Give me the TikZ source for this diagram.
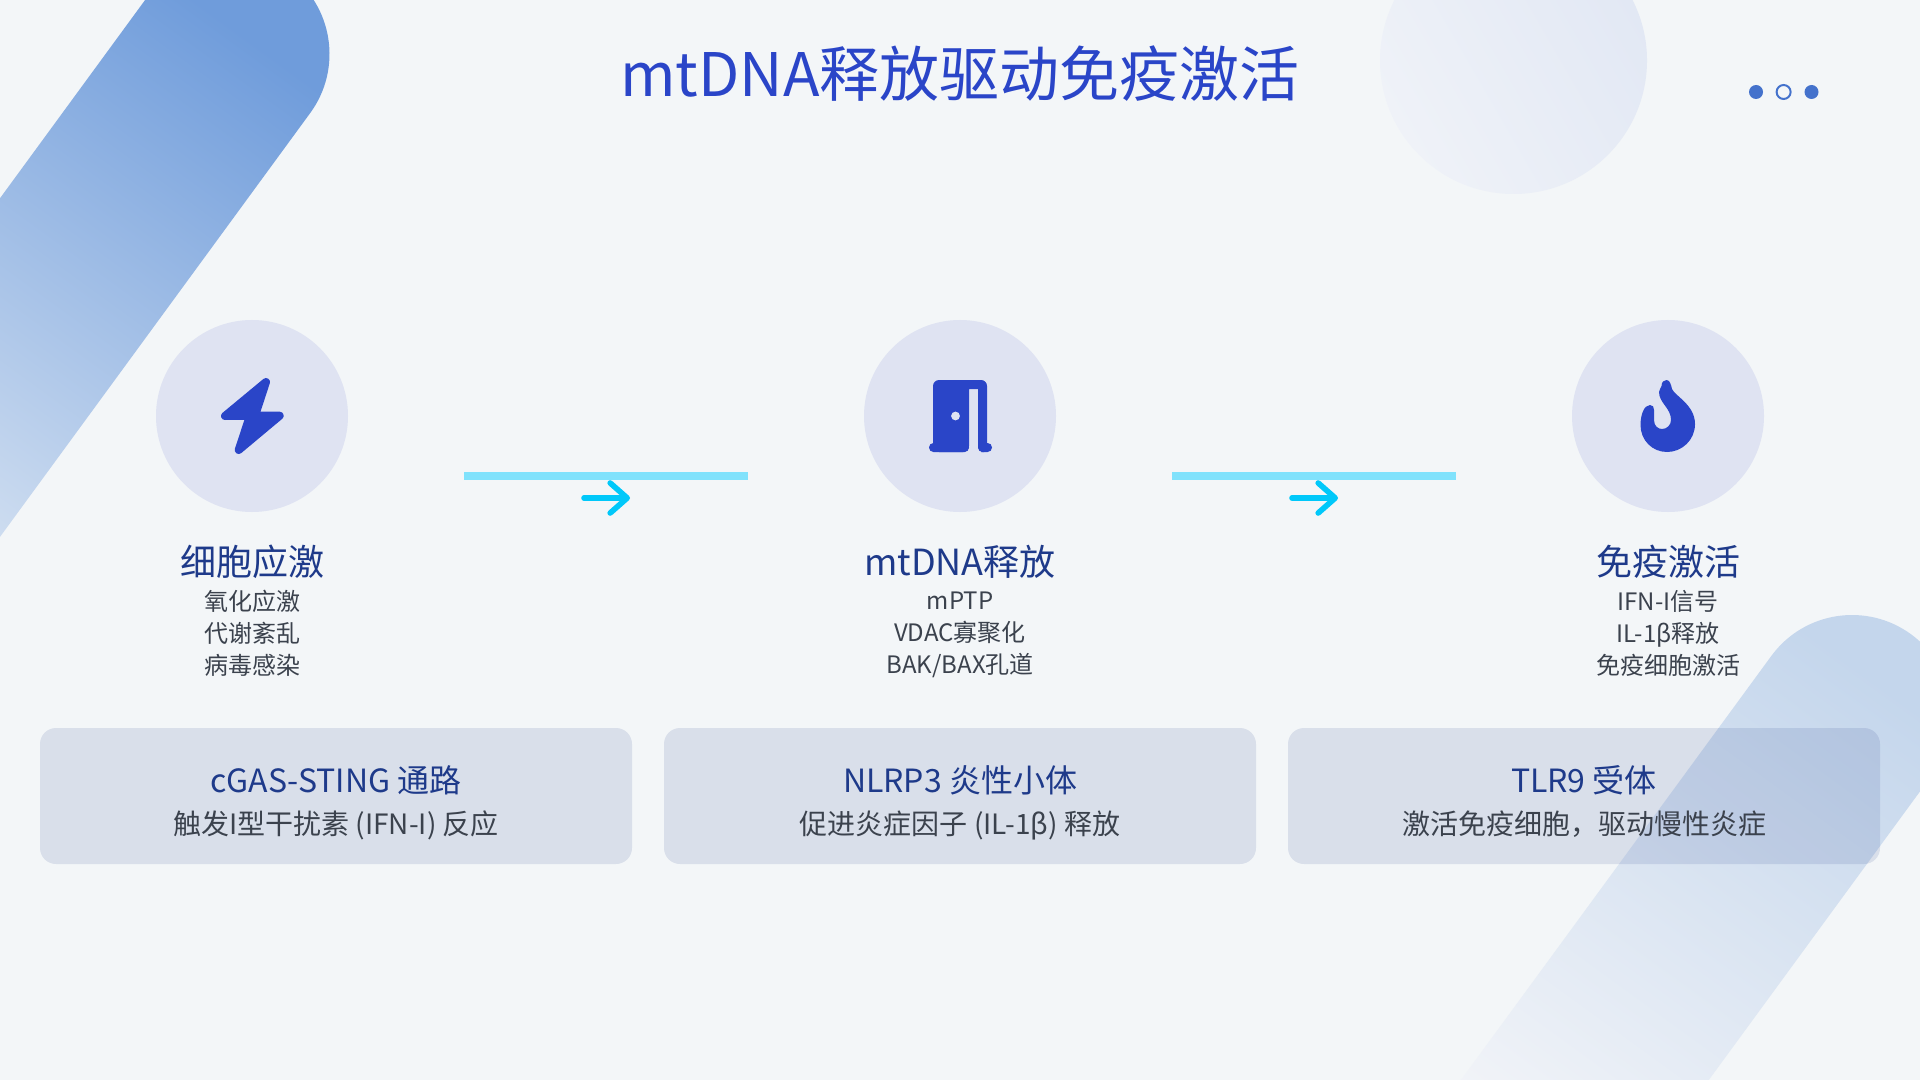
\documentclass[tikz,border=0pt]{standalone}
\usepackage{fontspec}
\setmainfont{Noto Sans CJK SC}
\usetikzlibrary{arrows.meta,positioning,calc}
\definecolor{Paper}{HTML}{F3F6F8}
\definecolor{Royal}{HTML}{2A45C8}
\definecolor{Navy}{HTML}{1E3A8A}
\definecolor{Slate}{HTML}{3B424D}
\definecolor{Halo}{HTML}{DFE3F2}
\definecolor{Dot}{HTML}{4472CC}
\definecolor{Cyan}{HTML}{00C8FA}
\definecolor{CyanSoft}{HTML}{80E2FC}
\definecolor{BandTop}{HTML}{6F9CDB}
\definecolor{BandEnd}{HTML}{E4ECF5}
\definecolor{PaleTop}{HTML}{C4D6EC}
\definecolor{PaleEnd}{HTML}{F2F4F8}
\definecolor{DiscTop}{HTML}{E2E8F4}
\definecolor{DiscEnd}{HTML}{EFF2F8}
\newcommand{\firstlinestrut}{\rule{0pt}{11.4pt}}
\tikzset{
  halo/.style={circle,fill=Halo,minimum size=96pt,inner sep=0pt},
  icon/.style={fill=Royal},
  headline/.style={font=\fontsize{18}{22}\selectfont,text=Navy},
  sublines/.style={font=\fontsize{12}{16}\selectfont,text=Slate,align=center},
  sumbox/.style={fill=Navy,fill opacity=0.12,rounded corners=8pt,minimum width=296pt,minimum height=68pt,inner sep=0pt},
  sumhead/.style={font=\fontsize{16}{20}\selectfont,text=Navy},
  sumtext/.style={font=\fontsize{14}{18}\selectfont,text=Slate,text height=12.4pt,text depth=2.6pt},
  flowbar/.style={CyanSoft,line width=4pt},
  flowarrow/.style={Cyan,line width=2.8pt,line cap=round,-{Straight Barb[round,length=8.5pt,width=15pt]}}
}

\begin{document}
\begin{tikzpicture}[x=0.5pt,y=-0.5pt]
\useasboundingbox (0,0) rectangle (1920,1080);
\clip (0,0) rectangle (1920,1080);
\fill[Paper] (0,0) rectangle (1920,1080);
\begin{scope}[shift={(229.5,54)}]
\shade[top color=BandTop,bottom color=BandEnd,shading angle=-36] (216.2:100) arc[start angle=216.2,end angle=396.2,radius=100] -- ++(126.2:700) -- ++(216.2:200) -- cycle;
\end{scope}
\begin{scope}[shift={(1852,715)}]
\shade[top color=PaleTop,bottom color=PaleEnd,shading angle=-36] (216.2:100) arc[start angle=216.2,end angle=396.2,radius=100] -- ++(126.2:560) -- ++(216.2:200) -- cycle;
\end{scope}
\shade[top color=DiscTop,bottom color=DiscEnd,shading angle=-60] (1513.5,60.5) circle (133.5);
\node[font=\fontsize{30}{36}\selectfont,text=Royal] (title) at (960,74) {mtDNA释放驱动免疫激活};
\foreach \i/\x in {1/1756,3/1811.5} {\fill[Dot] (\x,92) circle (7);}
\draw[Dot,line width=1pt] (1783.6,92) circle (7);
\foreach \i/\x/\h/\s in {1/252/细胞应激/{氧化应激\\代谢紊乱\\病毒感染},2/960/mtDNA释放/{mPTP\\VDAC寡聚化\\BAK/BAX孔道},3/1668/免疫激活/{IFN-I信号\\IL-1β释放\\免疫细胞激活}} {
  \node[halo] (halo\i) at (\x,416) {};
  \node[headline] (head\i) at (\x,561.5) {\h};
  \node[sublines] (sub\i) at (\x,632) {\firstlinestrut\s};
}
\foreach \i/\x in {1/606,2/1314} {
  \coordinate (barstart\i) at (\x-142,476);
  \coordinate (barend\i) at (\x+142,476);
  \coordinate (arrowstart\i) at (\x-22,498);
  \coordinate (arrowend\i) at (\x+24,498);
  \draw[flowbar] (barstart\i) -- (barend\i);
  \draw[flowarrow] (arrowstart\i) -- (arrowend\i);
}
\draw[icon,Royal,line width=4pt,line join=round] (225,416) -- (266,382) -- (255,415.7) -- (279.7,415.7) -- (238.7,450) -- (250,415.7) -- cycle;
\fill[icon,rounded corners=3pt] (933,452) -- (933,380) -- (987,380) -- (987,452) -- (978,452) [sharp corners] -- (978,389) -- (969,389) [rounded corners=3pt] -- (969,452) -- cycle;
\fill[icon,rounded corners=2.2pt] (929,443) rectangle (969,452);
\fill[icon,rounded corners=2.2pt] (978,443) rectangle (992,452);
\fill[Halo] (955.5,416) circle (4.4);
\fill[icon] (1661.5,386) .. controls (1661.5,382) and (1664,380) .. (1666.5,380) .. controls (1670,380) and (1671,385) .. (1672,389) .. controls (1675,396) and (1695,405) .. (1695,424) .. controls (1695,440) and (1682,452) .. (1667,452) .. controls (1652,452) and (1640.5,440) .. (1640.5,425) .. controls (1640.5,415) and (1644,405) .. (1650,405) .. controls (1653,405) and (1654,407) .. (1654,410) -- (1654,420) .. controls (1654,426) and (1658,429) .. (1662,429) .. controls (1667,429) and (1671,425) .. (1671,420) .. controls (1671,408) and (1659,403) .. (1659,392) .. controls (1659,390) and (1661,388) .. (1661.5,386) -- cycle;
\foreach \i/\x/\h/\s in {1/336/cGAS-STING 通路/触发I型干扰素 (IFN-I) 反应,2/960/NLRP3 炎性小体/促进炎症因子 (IL-1β) 释放,3/1584/TLR9 受体/激活免疫细胞，驱动慢性炎症} {
  \node[sumbox] (sum\i) at (\x,796) {};
  \node[sumhead] (sumhead\i) at (\x,780) {\h};
  \node[sumtext] (sumtext\i) at (\x,824.5) {\s};
}
\end{tikzpicture}
\end{document}
